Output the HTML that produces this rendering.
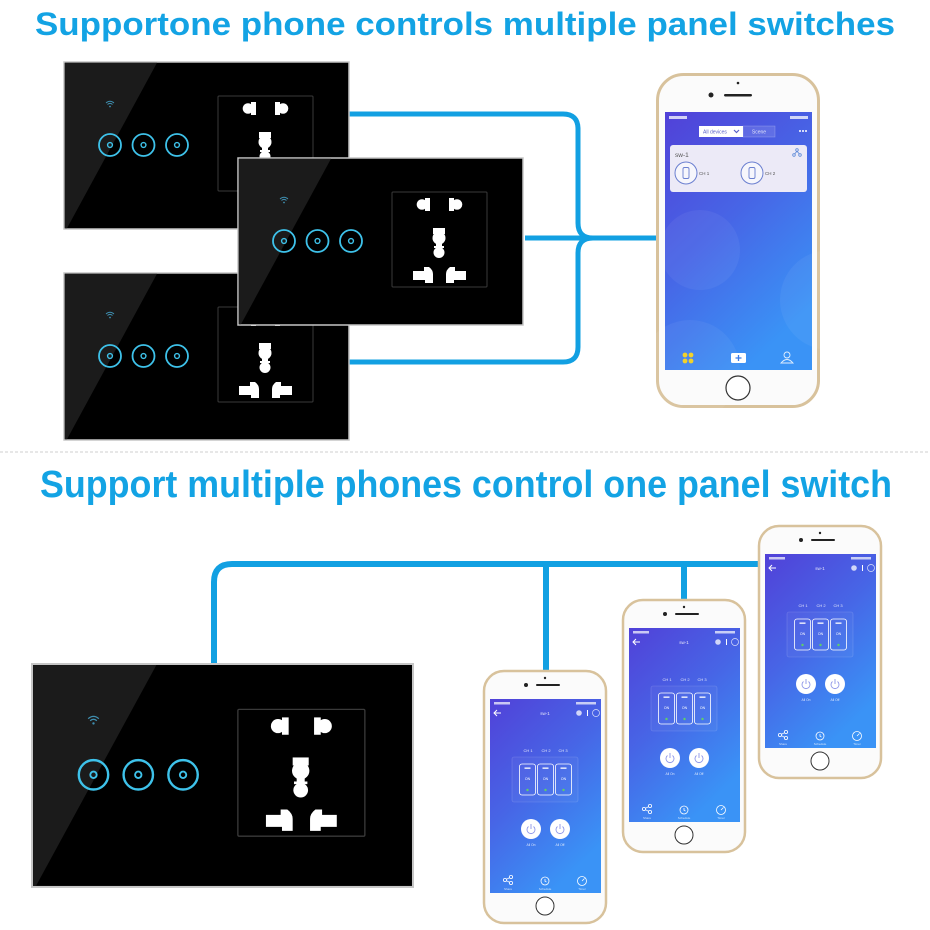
<!DOCTYPE html>
<html><head><meta charset="utf-8"><style>
html,body{margin:0;padding:0;background:#fff;width:930px;height:930px;overflow:hidden}
svg{display:block}
text{font-family:"Liberation Sans",Arial,sans-serif}
</style></head><body>
<svg width="930" height="930" viewBox="0 0 930 930" xmlns="http://www.w3.org/2000/svg">
<defs>
<linearGradient id="scr" x1="0" y1="0" x2="0.55" y2="1">
<stop offset="0" stop-color="#5141d8"/><stop offset="0.5" stop-color="#4765e6"/><stop offset="1" stop-color="#3a93f6"/>
</linearGradient>
<g id="sockL">
<circle cx="184" cy="46.5" r="5.3" fill="#fff"/><rect x="187" y="40" width="5" height="13" fill="#fff"/>
<path d="M175,113 H186 V109 H191 Q195,112 195,116 V125 H187 V122 H175 Z" fill="#fff"/>
</g>
<g id="panel">
<rect x="0" y="0" width="285" height="167" fill="#000" stroke="#c6c6c6" stroke-width="1.5"/>
<polygon points="0.8,0.8 93,0.8 3,166.2 0.8,166.2" fill="#1b1b1b"/>
<g fill="none" stroke="#3f8fb0" stroke-width="0.9">
<path d="M42,41 Q46,37.5 50,41"/><path d="M43.5,42.5 Q46,40.3 48.5,42.5"/>
</g>
<circle cx="46" cy="44.5" r="0.9" fill="#3f8fb0"/>
<g fill="none" stroke="#3ec2ea" stroke-width="1.8">
<circle cx="46" cy="83" r="11"/><circle cx="46" cy="83" r="2.4" stroke-width="1.4"/>
<circle cx="79.5" cy="83" r="11"/><circle cx="79.5" cy="83" r="2.4" stroke-width="1.4"/>
<circle cx="113" cy="83" r="11"/><circle cx="113" cy="83" r="2.4" stroke-width="1.4"/>
</g>
<rect x="154" y="34" width="95" height="95" rx="1" fill="#000" stroke="#3a3a3a" stroke-width="1"/>
<use href="#sockL"/>
<use href="#sockL" transform="translate(403,0) scale(-1,1)"/>
<rect x="195" y="70" width="12" height="6" fill="#fff"/>
<circle cx="201" cy="80" r="6.5" fill="#fff"/>
<rect x="198" y="84" width="6" height="6" fill="#fff"/>
<rect x="196" y="88" width="10" height="2" fill="#fff"/>
<circle cx="201" cy="94.5" r="5.5" fill="#fff"/>
</g>
</defs>

<!-- Titles -->
<text x="35" y="35" font-size="32" font-weight="bold" fill="#13a3e4" textLength="860" lengthAdjust="spacingAndGlyphs">Supportone phone controls multiple panel switches</text>
<line x1="0" y1="452" x2="930" y2="452" stroke="#cfcfcf" stroke-width="1" stroke-dasharray="3 2"/>
<text x="40" y="497" font-size="38" font-weight="bold" fill="#13a3e4" textLength="852" lengthAdjust="spacingAndGlyphs">Support multiple phones control one panel switch</text>

<!-- top lines -->
<g fill="none" stroke="#12a0e2" stroke-width="5">
<path d="M349,114 H563 Q578,114 578,129 V223 Q578,238 593,238"/>
<path d="M349,362 H563 Q578,362 578,347 V253 Q578,238 593,238"/>
<path d="M525,238 H658"/>
</g>

<!-- top panels -->
<use href="#panel" transform="translate(64,62)"/>
<use href="#panel" transform="translate(64,273)"/>
<use href="#panel" transform="translate(238,158)"/>

<!-- top phone -->
<g>
<rect x="657.5" y="74.5" width="161" height="332" rx="26" fill="#fbfbfb" stroke="#d8c29c" stroke-width="3"/>
<circle cx="738" cy="83" r="1.3" fill="#222"/>
<circle cx="711" cy="95" r="2.5" fill="#222"/>
<rect x="724" y="94" width="28" height="2.5" rx="1.2" fill="#222"/>
<rect x="665" y="112" width="147" height="258" fill="url(#scr)"/>
<circle cx="700" cy="250" r="40" fill="#fff" opacity="0.05"/>
<circle cx="830" cy="300" r="50" fill="#fff" opacity="0.05"/>
<circle cx="690" cy="370" r="50" fill="#fff" opacity="0.05"/>
<g fill="#fff" opacity="0.75">
<rect x="669" y="116" width="18" height="3"/><rect x="790" y="116" width="18" height="3"/>
</g>
<rect x="699" y="126" width="44" height="11" fill="#fff"/>
<text x="703" y="133.7" font-size="5" fill="#5a62c8">All devices</text>
<path d="M734,130 L736.5,132.5 L739,130" fill="none" stroke="#5a62c8" stroke-width="1.2"/>
<rect x="743" y="126" width="32" height="11" fill="#fff" fill-opacity="0.12" stroke="#fff" stroke-opacity="0.3" stroke-width="0.6"/>
<text x="759" y="133.7" font-size="5" fill="#fff" fill-opacity="0.8" text-anchor="middle">Scene</text>
<circle cx="800" cy="131" r="1" fill="#fff"/><circle cx="803" cy="131" r="1" fill="#fff"/><circle cx="806" cy="131" r="1" fill="#fff"/>
<rect x="670" y="145" width="137" height="47" rx="3" fill="#eceaf7"/>
<text x="675" y="157" font-size="6.5" fill="#555">sw-1</text>
<g fill="none" stroke="#5d8ad8" stroke-width="0.8"><circle cx="797" cy="150" r="1.3"/><circle cx="794" cy="155" r="1.3"/><circle cx="800" cy="155" r="1.3"/><path d="M797,151.3 L794.5,154 M797,151.3 L799.5,154"/></g>
<circle cx="686" cy="173" r="11" fill="#f6f6fc" stroke="#6a7fd0" stroke-width="1"/>
<rect x="683" y="167.5" width="6" height="11" rx="1.5" fill="none" stroke="#6a7fd0" stroke-width="0.9"/>
<text x="699" y="175" font-size="4.5" fill="#555">CH 1</text>
<circle cx="752" cy="173" r="11" fill="#f6f6fc" stroke="#6a7fd0" stroke-width="1"/>
<rect x="749" y="167.5" width="6" height="11" rx="1.5" fill="none" stroke="#6a7fd0" stroke-width="0.9"/>
<text x="765" y="175" font-size="4.5" fill="#555">CH 2</text>
<g fill="#f2d22a"><circle cx="685" cy="355" r="2.4"/><circle cx="691" cy="355" r="2.4"/><circle cx="685" cy="361" r="2.4"/><circle cx="691" cy="361" r="2.4"/></g>
<rect x="731" y="353" width="15" height="10" rx="1.5" fill="#fff"/>
<path d="M738.5,355 V361 M735.5,358 H741.5" stroke="#3a7ae8" stroke-width="1.3"/>
<g fill="none" stroke="#fff" stroke-width="0.9" opacity="0.85"><circle cx="787" cy="355" r="3"/><path d="M781,363 Q787,356 793,363 Z"/></g>
<circle cx="738" cy="388" r="12" fill="#fff" stroke="#333" stroke-width="1.2"/>
</g>

<!-- bottom lines -->
<g fill="none" stroke="#12a0e2" stroke-width="6">
<path d="M214,664 V582 Q214,564 232,564 H759"/>
<path d="M546,564 V671"/>
<path d="M684,564 V600"/>
</g>

<!-- big panel -->
<use href="#panel" transform="translate(32,664) scale(1.3368,1.335)"/>

<!-- bottom phone C -->
<g transform="translate(758,525)">
<rect x="1" y="1" width="122" height="252" rx="20" fill="#fbfbfb" stroke="#d8c29c" stroke-width="2.5"/>
<circle cx="62" cy="8" r="1.2" fill="#222"/><circle cx="43" cy="15" r="2" fill="#222"/>
<rect x="53" y="14" width="24" height="2" rx="1" fill="#222"/>
<rect x="7" y="29" width="111" height="194" fill="url(#scr)"/>
<g transform="translate(7,29)">
<g fill="#fff" opacity="0.7"><rect x="4" y="3" width="16" height="2.5"/><rect x="86" y="3" width="20" height="2.5"/></g>
<path d="M11,14 H4 M7,11 L4,14 L7,17" fill="none" stroke="#fff" stroke-width="1"/>
<text x="55" y="16" font-size="4.5" fill="#fff" fill-opacity="0.85" text-anchor="middle">sw-1</text>
<circle cx="89" cy="14" r="2.8" fill="#fff" opacity="0.75"/><rect x="97" y="11" width="1" height="6" fill="#fff"/><circle cx="106" cy="14" r="3.5" fill="none" stroke="#fff" stroke-width="0.7" opacity="0.8"/>
<g font-size="4" fill="#fff" fill-opacity="0.85" text-anchor="middle"><text x="38" y="53">CH 1</text><text x="56" y="53">CH 2</text><text x="73" y="53">CH 3</text></g>
<rect x="22" y="58" width="66" height="45" rx="2" fill="#fff" fill-opacity="0.04" stroke="#fff" stroke-opacity="0.2" stroke-width="0.6"/>
<g fill="none" stroke="#fff" stroke-width="0.8"><rect x="29.5" y="65" width="16" height="31" rx="2.5"/><rect x="47.5" y="65" width="16" height="31" rx="2.5"/><rect x="65.5" y="65" width="16" height="31" rx="2.5"/></g>
<g fill="#fff"><rect x="34.5" y="68.5" width="6" height="1.3"/><rect x="52.5" y="68.5" width="6" height="1.3"/><rect x="70.5" y="68.5" width="6" height="1.3"/></g>
<g font-size="3.5" fill="#fff" text-anchor="middle"><text x="37.5" y="81">ON</text><text x="55.5" y="81">ON</text><text x="73.5" y="81">ON</text></g>
<g fill="#5fd068"><circle cx="37.5" cy="91" r="1.2"/><circle cx="55.5" cy="91" r="1.2"/><circle cx="73.5" cy="91" r="1.2"/></g>
<circle cx="41" cy="130" r="10" fill="#fff"/><circle cx="70" cy="130" r="10" fill="#fff"/>
<g fill="none" stroke="#8e96e8" stroke-width="0.9"><path d="M38.5,127.5 A4,4 0 1 0 43.5,127.5 M41,125 V130"/><path d="M67.5,127.5 A4,4 0 1 0 72.5,127.5 M70,125 V130"/></g>
<g font-size="3.3" fill="#fff" fill-opacity="0.8" text-anchor="middle"><text x="41" y="147">All On</text><text x="70" y="147">All Off</text></g>
<g fill="none" stroke="#fff" stroke-width="0.8"><circle cx="15" cy="181" r="1.6"/><circle cx="21" cy="178" r="1.6"/><circle cx="21" cy="184" r="1.6"/><path d="M16.5,180.3 L19.5,178.7 M16.5,181.7 L19.5,183.3"/><circle cx="55" cy="182" r="4"/><path d="M55,180 V182.3 L56.5,183"/><circle cx="92" cy="182" r="4.5"/><path d="M92,182 L94.5,179.5"/></g>
<g font-size="3" fill="#fff" fill-opacity="0.75" text-anchor="middle"><text x="18" y="191">Share</text><text x="55" y="191">Schedule</text><text x="92" y="191">Timer</text></g>
</g>
<circle cx="62" cy="236" r="9" fill="#fff" stroke="#333" stroke-width="1"/>
</g>

<!-- bottom phone B -->
<g transform="translate(622,599)">
<rect x="1" y="1" width="122" height="252" rx="20" fill="#fbfbfb" stroke="#d8c29c" stroke-width="2.5"/>
<circle cx="62" cy="8" r="1.2" fill="#222"/><circle cx="43" cy="15" r="2" fill="#222"/>
<rect x="53" y="14" width="24" height="2" rx="1" fill="#222"/>
<rect x="7" y="29" width="111" height="194" fill="url(#scr)"/>
<g transform="translate(7,29)">
<g fill="#fff" opacity="0.7"><rect x="4" y="3" width="16" height="2.5"/><rect x="86" y="3" width="20" height="2.5"/></g>
<path d="M11,14 H4 M7,11 L4,14 L7,17" fill="none" stroke="#fff" stroke-width="1"/>
<text x="55" y="16" font-size="4.5" fill="#fff" fill-opacity="0.85" text-anchor="middle">sw-1</text>
<circle cx="89" cy="14" r="2.8" fill="#fff" opacity="0.75"/><rect x="97" y="11" width="1" height="6" fill="#fff"/><circle cx="106" cy="14" r="3.5" fill="none" stroke="#fff" stroke-width="0.7" opacity="0.8"/>
<g font-size="4" fill="#fff" fill-opacity="0.85" text-anchor="middle"><text x="38" y="53">CH 1</text><text x="56" y="53">CH 2</text><text x="73" y="53">CH 3</text></g>
<rect x="22" y="58" width="66" height="45" rx="2" fill="#fff" fill-opacity="0.04" stroke="#fff" stroke-opacity="0.2" stroke-width="0.6"/>
<g fill="none" stroke="#fff" stroke-width="0.8"><rect x="29.5" y="65" width="16" height="31" rx="2.5"/><rect x="47.5" y="65" width="16" height="31" rx="2.5"/><rect x="65.5" y="65" width="16" height="31" rx="2.5"/></g>
<g fill="#fff"><rect x="34.5" y="68.5" width="6" height="1.3"/><rect x="52.5" y="68.5" width="6" height="1.3"/><rect x="70.5" y="68.5" width="6" height="1.3"/></g>
<g font-size="3.5" fill="#fff" text-anchor="middle"><text x="37.5" y="81">ON</text><text x="55.5" y="81">ON</text><text x="73.5" y="81">ON</text></g>
<g fill="#5fd068"><circle cx="37.5" cy="91" r="1.2"/><circle cx="55.5" cy="91" r="1.2"/><circle cx="73.5" cy="91" r="1.2"/></g>
<circle cx="41" cy="130" r="10" fill="#fff"/><circle cx="70" cy="130" r="10" fill="#fff"/>
<g fill="none" stroke="#8e96e8" stroke-width="0.9"><path d="M38.5,127.5 A4,4 0 1 0 43.5,127.5 M41,125 V130"/><path d="M67.5,127.5 A4,4 0 1 0 72.5,127.5 M70,125 V130"/></g>
<g font-size="3.3" fill="#fff" fill-opacity="0.8" text-anchor="middle"><text x="41" y="147">All On</text><text x="70" y="147">All Off</text></g>
<g fill="none" stroke="#fff" stroke-width="0.8"><circle cx="15" cy="181" r="1.6"/><circle cx="21" cy="178" r="1.6"/><circle cx="21" cy="184" r="1.6"/><path d="M16.5,180.3 L19.5,178.7 M16.5,181.7 L19.5,183.3"/><circle cx="55" cy="182" r="4"/><path d="M55,180 V182.3 L56.5,183"/><circle cx="92" cy="182" r="4.5"/><path d="M92,182 L94.5,179.5"/></g>
<g font-size="3" fill="#fff" fill-opacity="0.75" text-anchor="middle"><text x="18" y="191">Share</text><text x="55" y="191">Schedule</text><text x="92" y="191">Timer</text></g>
</g>
<circle cx="62" cy="236" r="9" fill="#fff" stroke="#333" stroke-width="1"/>
</g>

<!-- bottom phone A -->
<g transform="translate(483,670)">
<rect x="1" y="1" width="122" height="252" rx="20" fill="#fbfbfb" stroke="#d8c29c" stroke-width="2.5"/>
<circle cx="62" cy="8" r="1.2" fill="#222"/><circle cx="43" cy="15" r="2" fill="#222"/>
<rect x="53" y="14" width="24" height="2" rx="1" fill="#222"/>
<rect x="7" y="29" width="111" height="194" fill="url(#scr)"/>
<g transform="translate(7,29)">
<g fill="#fff" opacity="0.7"><rect x="4" y="3" width="16" height="2.5"/><rect x="86" y="3" width="20" height="2.5"/></g>
<path d="M11,14 H4 M7,11 L4,14 L7,17" fill="none" stroke="#fff" stroke-width="1"/>
<text x="55" y="16" font-size="4.5" fill="#fff" fill-opacity="0.85" text-anchor="middle">sw-1</text>
<circle cx="89" cy="14" r="2.8" fill="#fff" opacity="0.75"/><rect x="97" y="11" width="1" height="6" fill="#fff"/><circle cx="106" cy="14" r="3.5" fill="none" stroke="#fff" stroke-width="0.7" opacity="0.8"/>
<g font-size="4" fill="#fff" fill-opacity="0.85" text-anchor="middle"><text x="38" y="53">CH 1</text><text x="56" y="53">CH 2</text><text x="73" y="53">CH 3</text></g>
<rect x="22" y="58" width="66" height="45" rx="2" fill="#fff" fill-opacity="0.04" stroke="#fff" stroke-opacity="0.2" stroke-width="0.6"/>
<g fill="none" stroke="#fff" stroke-width="0.8"><rect x="29.5" y="65" width="16" height="31" rx="2.5"/><rect x="47.5" y="65" width="16" height="31" rx="2.5"/><rect x="65.5" y="65" width="16" height="31" rx="2.5"/></g>
<g fill="#fff"><rect x="34.5" y="68.5" width="6" height="1.3"/><rect x="52.5" y="68.5" width="6" height="1.3"/><rect x="70.5" y="68.5" width="6" height="1.3"/></g>
<g font-size="3.5" fill="#fff" text-anchor="middle"><text x="37.5" y="81">ON</text><text x="55.5" y="81">ON</text><text x="73.5" y="81">ON</text></g>
<g fill="#5fd068"><circle cx="37.5" cy="91" r="1.2"/><circle cx="55.5" cy="91" r="1.2"/><circle cx="73.5" cy="91" r="1.2"/></g>
<circle cx="41" cy="130" r="10" fill="#fff"/><circle cx="70" cy="130" r="10" fill="#fff"/>
<g fill="none" stroke="#8e96e8" stroke-width="0.9"><path d="M38.5,127.5 A4,4 0 1 0 43.5,127.5 M41,125 V130"/><path d="M67.5,127.5 A4,4 0 1 0 72.5,127.5 M70,125 V130"/></g>
<g font-size="3.3" fill="#fff" fill-opacity="0.8" text-anchor="middle"><text x="41" y="147">All On</text><text x="70" y="147">All Off</text></g>
<g fill="none" stroke="#fff" stroke-width="0.8"><circle cx="15" cy="181" r="1.6"/><circle cx="21" cy="178" r="1.6"/><circle cx="21" cy="184" r="1.6"/><path d="M16.5,180.3 L19.5,178.7 M16.5,181.7 L19.5,183.3"/><circle cx="55" cy="182" r="4"/><path d="M55,180 V182.3 L56.5,183"/><circle cx="92" cy="182" r="4.5"/><path d="M92,182 L94.5,179.5"/></g>
<g font-size="3" fill="#fff" fill-opacity="0.75" text-anchor="middle"><text x="18" y="191">Share</text><text x="55" y="191">Schedule</text><text x="92" y="191">Timer</text></g>
</g>
<circle cx="62" cy="236" r="9" fill="#fff" stroke="#333" stroke-width="1"/>
</g>
</svg>
</body></html>
